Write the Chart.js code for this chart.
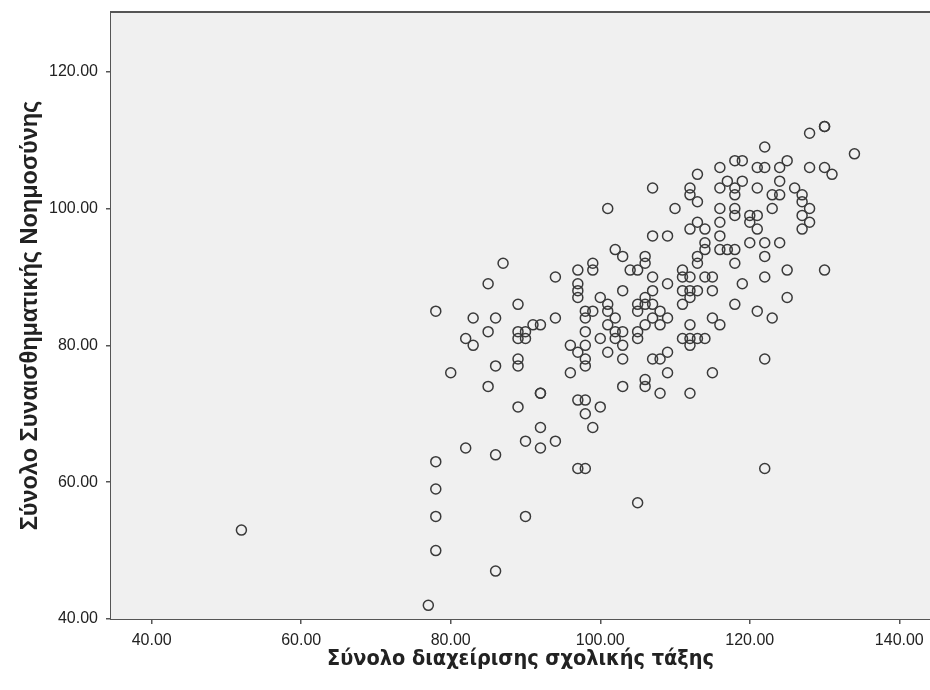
<!DOCTYPE html>
<html>
<head>
<meta charset="utf-8">
<script src="https://cdn.jsdelivr.net/npm/chart.js@4.4.1/dist/chart.umd.min.js"></script>
<style>
  html, body { margin: 0; padding: 0; background: #ffffff; }
  #wrap { width: 930px; height: 690px; }
</style>
</head>
<body>
<div id="wrap"><canvas id="scatter" width="930" height="690"></canvas></div>
<script>
// Σύνολο διαχείρισης σχολικής τάξης (x) / Σύνολο Συναισθηματικής Νοημοσύνης (y), one entry per pupil
const classManagement = [
  101, 102, 103, 104, 87, 85, 78, 89, 94, 94, 97, 99, 99, 97, 97, 97, 100, 101, 101, 103,
  98, 99, 98, 102, 101, 83, 86, 85, 82, 83, 89, 90, 89, 90, 91, 92, 98, 100, 102, 102,
  103, 103, 96, 98, 101,
  130, 130, 128, 134, 122, 118, 119, 125, 116, 121, 122, 124, 128, 130, 131, 113, 107, 112, 112, 113,
  117, 119, 116, 118, 118, 121, 124, 126, 123, 124, 127, 127, 128, 127, 128, 127, 110, 116, 118, 118,
  123, 120, 121, 120, 116, 113, 112, 114, 121, 107, 109, 116, 114, 114, 113, 113, 116, 117, 118, 120,
  122, 124, 122, 118, 125, 130, 122, 119, 125, 118, 121, 123, 115, 116, 112, 106, 106, 105, 107, 107,
  109, 111, 111, 112, 114, 115, 111, 112, 113, 115, 112, 111, 106, 105, 106, 107, 105, 108, 107, 109,
  106, 108, 105, 105, 111, 112, 113, 114, 112,
  80, 86, 89, 89, 85, 92, 92, 89, 96, 97, 98, 98, 100, 99, 103, 103, 97, 98, 98, 92,
  90, 92, 94, 82, 86, 78, 78, 78, 78, 86, 90, 97, 98, 77, 52,
  122, 122, 105, 115, 109, 108, 112, 106, 106, 107, 108, 109
];
const emotionalIntelligence = [
  100, 94, 93, 91, 92, 89, 85, 86, 90, 84, 91, 92, 91, 89, 88, 87, 87, 86, 85, 88,
  85, 85, 84, 84, 83, 84, 84, 82, 81, 80, 82, 82, 81, 81, 83, 83, 82, 81, 82, 81,
  82, 80, 80, 80, 79,
  112, 112, 111, 108, 109, 107, 107, 107, 106, 106, 106, 106, 106, 106, 105, 105, 103, 103, 102, 101,
  104, 104, 103, 103, 102, 103, 104, 103, 102, 102, 102, 101, 100, 99, 98, 97, 100, 100, 100, 99,
  100, 99, 99, 98, 98, 98, 97, 97, 97, 96, 96, 96, 95, 94, 93, 92, 94, 94, 94, 95,
  95, 95, 93, 92, 91, 91, 90, 89, 87, 86, 85, 84, 84, 83, 83, 93, 92, 91, 90, 88,
  89, 91, 90, 90, 90, 90, 88, 88, 88, 88, 87, 86, 87, 86, 86, 86, 85, 85, 84, 84,
  83, 83, 82, 81, 81, 81, 81, 81, 80,
  76, 77, 78, 77, 74, 73, 73, 71, 76, 72, 72, 70, 71, 68, 74, 78, 79, 78, 77, 68,
  66, 65, 66, 65, 64, 63, 59, 55, 50, 47, 55, 62, 62, 42, 53,
  78, 62, 57, 76, 76, 73, 73, 75, 74, 78, 78, 79
];

const xTickValues = [40, 60, 80, 100, 120, 140];
const yTickValues = [40, 60, 80, 100, 120];
const xTitle = "Σύνολο διαχείρισης σχολικής τάξης";
const yTitle = "Σύνολο Συναισθηματικής Νοημοσύνης";

const points = classManagement.map((x, i) => ({x: x, y: emotionalIntelligence[i]}));

// grey plot area and the top frame line, like the SPSS output
const plotFrame = {
    id: "plotFrame",
    beforeDatasetsDraw(chart) {
        const {ctx, chartArea} = chart;
        ctx.save();
        ctx.fillStyle = "#f0f0f0";
        ctx.fillRect(chartArea.left, chartArea.top, chartArea.right - chartArea.left, chartArea.bottom - chartArea.top);
        ctx.strokeStyle = "#555555";
        ctx.lineWidth = 2;
        ctx.beginPath();
        ctx.moveTo(chartArea.left - 1, chartArea.top);
        ctx.lineTo(chartArea.right, chartArea.top);
        ctx.stroke();
        ctx.restore();
    }
};

// no extra room for the edge labels, the frame runs off the right side
function noEdgePadding(scale) {
    scale.paddingLeft = 0;
    scale.paddingRight = 0;
    scale.paddingTop = 0;
    scale.paddingBottom = 0;
}

const tickFont = {family: "'Liberation Sans', Arial, sans-serif", size: 16};
const xTitleFont = {family: "'Liberation Sans Narrow', 'DejaVu Sans Condensed', 'Liberation Sans', sans-serif", size: 21.5, weight: "bold"};
const yTitleFont = {family: "'Liberation Sans', Arial, sans-serif", size: 23.5, weight: "bold"};

new Chart(document.getElementById("scatter"), {
    type: "scatter",
    data: {
        datasets: [{
            data: points,
            pointStyle: "circle",
            pointRadius: 5,
            pointHoverRadius: 5,
            borderWidth: 1.5,
            borderColor: "#3a3a3a",
            backgroundColor: "rgba(0,0,0,0)"
        }]
    },
    options: {
        responsive: false,
        animation: false,
        devicePixelRatio: 1,
        layout: {autoPadding: false, padding: {top: 12, left: 0, right: 0, bottom: 0}},
        plugins: {legend: {display: false}, tooltip: {enabled: false}},
        scales: {
            x: {
                type: "linear",
                min: 34.556,
                max: 144.106,
                afterBuildTicks: scale => { scale.ticks = xTickValues.map(v => ({value: v})); },
                afterFit: scale => { scale.height = 71; noEdgePadding(scale); },
                border: {display: true, color: "#555555", width: 2},
                grid: {drawOnChartArea: false, drawTicks: true, tickLength: 5, color: "#555555", lineWidth: 1.5},
                ticks: {font: tickFont, color: "#222222", padding: 7, maxRotation: 0, callback: v => v.toFixed(2)},
                title: {display: true, text: xTitle, font: xTitleFont, color: "#222222", padding: {top: 0, bottom: 18}}
            },
            y: {
                type: "linear",
                min: 40,
                max: 128.73,
                afterBuildTicks: scale => { scale.ticks = yTickValues.map(v => ({value: v})); },
                afterFit: scale => { scale.width = 111; noEdgePadding(scale); },
                border: {display: true, color: "#555555", width: 2},
                grid: {drawOnChartArea: false, drawTicks: true, tickLength: 5, color: "#555555", lineWidth: 1.5},
                ticks: {font: tickFont, color: "#222222", padding: 8, callback: v => v.toFixed(2)},
                title: {display: true, text: yTitle, font: yTitleFont, color: "#222222", padding: {top: 16, bottom: 0}}
            }
        }
    },
    plugins: [plotFrame]
});
</script>
</body>
</html>
